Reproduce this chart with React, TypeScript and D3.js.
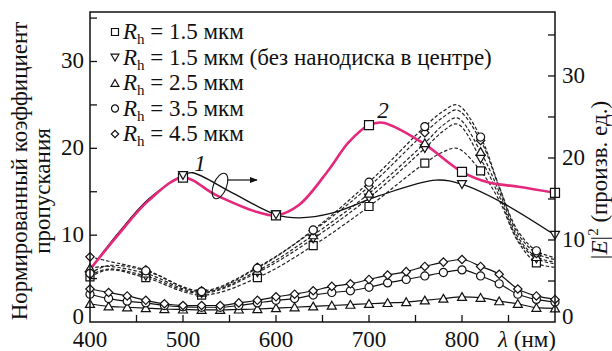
import React from 'react';
import * as d3 from 'd3';

const FONT = 'Liberation Serif';
const PINK = '#e4287c';

// dashed curves: normalized transmission (left axis)
const dashLambda = [400, 420, 460, 520, 580, 640, 700, 760, 780, 795, 820, 840, 860, 880, 900];
const dashMarkLambda = [400, 460, 520, 580, 640, 700, 760, 820, 880];
const dashSq = [5.2, 6.0, 5.1, 3.1, 5.1, 8.8, 13.3, 18.3, 19.6, 20.0, 17.4, 14.0, 9.3, 6.8, 6.3];
const dashInv = [5.4, 6.1, 5.3, 3.3, 5.7, 9.6, 14.3, 20.0, 22.0, 22.8, 18.8, 14.5, 9.5, 7.3, 6.7];
const dashTri = [6.2, 6.4, 5.6, 3.4, 5.9, 10.0, 14.8, 20.6, 22.7, 23.5, 19.6, 15.0, 9.8, 7.5, 6.9];
const dashCirc = [5.6, 6.5, 5.9, 3.5, 6.2, 10.6, 16.1, 22.5, 24.3, 25.0, 21.3, 15.6, 10.5, 8.2, 7.4];
const dashDia = [7.5, 7.0, 6.0, 3.6, 6.3, 10.5, 15.6, 21.8, 23.6, 24.4, 20.9, 15.5, 10.2, 7.9, 7.2];

// lower solid curves (left axis)
const lowLambda = [400, 420, 440, 460, 480, 500, 520, 540, 560, 580, 600, 620, 640, 660, 680, 700, 720, 740, 760, 780, 800, 820, 840, 860, 880, 900];
const lowDia = [3.8, 3.4, 3.0, 2.5, 2.1, 1.9, 1.9, 1.9, 2.2, 2.5, 2.9, 3.2, 3.6, 4.1, 4.4, 4.9, 5.4, 5.8, 6.4, 6.9, 7.2, 6.4, 5.5, 3.8, 3.0, 2.6];
const lowCirc = [3.2, 2.7, 2.4, 2.2, 1.9, 1.75, 1.7, 1.7, 1.9, 2.2, 2.5, 2.7, 3.1, 3.4, 3.6, 4.0, 4.5, 4.9, 5.3, 5.7, 6.0, 5.3, 4.4, 3.2, 2.6, 2.3];
const lowTri = [2.1, 1.8, 1.7, 1.6, 1.5, 1.45, 1.4, 1.4, 1.45, 1.5, 1.6, 1.7, 1.8, 1.9, 2.0, 2.1, 2.2, 2.3, 2.5, 2.7, 2.9, 2.8, 2.4, 2.1, 1.65, 1.57];

// curve 1 (black) and curve 2 (pink): |E|^2, right axis
const c1Lambda = [400, 430, 463, 500, 510, 553, 600, 625, 661, 711, 772, 800, 844, 900];
const c1Val = [6.4, 10.8, 15.0, 17.9, 18.2, 15.75, 13.1, 12.7, 13.3, 15.4, 17.3, 16.8, 14.5, 10.6];
const c1Marks = [500, 600, 800, 900];
const c2Lambda = [400, 430, 463, 500, 535, 580, 600, 625, 657, 678, 700, 715, 757, 800, 829, 861, 900];
const c2Val = [6.4, 10.6, 14.8, 17.6, 15.5, 13.4, 13.0, 14.3, 18.6, 21.9, 24.0, 24.3, 21.9, 18.3, 17.0, 16.5, 15.75];
const c2Marks = [500, 600, 700, 800, 900];

const xTickLabels = [400, 500, 600, 700, 800];
const leftTickLabels = [0, 10, 20, 30];
const rightTickLabels = [0, 10, 20, 30];

const legendItems = [
  { sym: 'square', text: '= 1.5 мкм' },
  { sym: 'inv', text: '= 1.5 мкм (без нанодиска в центре)' },
  { sym: 'tri', text: '= 2.5 мкм' },
  { sym: 'circle', text: '= 3.5 мкм' },
  { sym: 'diamond', text: '= 4.5 мкм' },
];

const W = 612, H = 351;
const left = 90, right = 555, top = 12, bottom = 322;
const FS = 23;

function markerPath(kind: string, s: number) {
  if (kind === 'square') return d3.symbol().type(d3.symbolSquare).size(s * s)()!;
  if (kind === 'circle') return d3.symbol().type(d3.symbolCircle).size(s * s * 0.8)()!;
  if (kind === 'diamond') return d3.symbol().type(d3.symbolSquare).size(s * s * 0.55)()!;
  return d3.symbol().type(d3.symbolTriangle).size(s * s * 0.55)()!;
}

function Marker({ kind, x, y, s }: { kind: string; x: number; y: number; s: number }) {
  let rot = 0;
  if (kind === 'inv') rot = 180;
  if (kind === 'diamond') rot = 45;
  const dy = kind === 'tri' ? 1 : kind === 'inv' ? -1 : 0;
  return (
    <path
      d={markerPath(kind, s)}
      transform={`translate(${x},${y + dy}) rotate(${rot})`}
      fill="#fff"
      stroke="#111"
      strokeWidth={1.2}
    />
  );
}

function T(props: any) {
  const { children, style, ...rest } = props;
  return (
    <text fontFamily={FONT} fill="#111" fontSize={FS} style={{ fontFamily: `'${FONT}'`, ...(style || {}) }} {...rest}>
      {children}
    </text>
  );
}

export default function App() {
  const x = d3.scaleLinear().domain([400, 900]).range([left, right]);
  const yL = d3.scaleLinear().domain([0, 35.7]).range([bottom, top]);
  const yR = d3.scaleLinear().domain([0, 37.8]).range([bottom, top]);

  const lineFor = (ys: d3.ScaleLinear<number, number>, curve: d3.CurveFactory) =>
    d3.line<[number, number]>().x((d) => x(d[0])).y((d) => ys(d[1])).curve(curve);

  const smoothL = lineFor(yL, d3.curveCatmullRom.alpha(0.5));
  const monoL = lineFor(yL, d3.curveMonotoneX);
  const smoothR = lineFor(yR, d3.curveCatmullRom.alpha(0.5));

  const zip = (a: number[], b: number[]) => a.map((v, i) => [v, b[i]] as [number, number]);

  const dashed = [
    { kind: 'square', vals: dashSq },
    { kind: 'inv', vals: dashInv },
    { kind: 'tri', vals: dashTri },
    { kind: 'diamond', vals: dashDia },
    { kind: 'circle', vals: dashCirc },
  ];
  const lows = [
    { kind: 'tri', vals: lowTri },
    { kind: 'circle', vals: lowCirc },
    { kind: 'diamond', vals: lowDia },
  ];

  const valAt = (lams: number[], vals: number[], l: number) => vals[lams.indexOf(l)];

  return (
    <svg width={W} height={H} fontFamily={FONT} style={{ position: 'absolute', left: 0, top: 0, background: '#fff' }}>
      <style>{`text, tspan { font-family: 'Liberation Serif', serif; }`}</style>
      <defs>
        <marker id="arr" viewBox="0 0 10 10" refX="9" refY="5" markerWidth="8" markerHeight="8" markerUnits="userSpaceOnUse" orient="auto">
          <path d="M0,1 L10,5 L0,9 Z" fill="#111" />
        </marker>
      </defs>

      {/* dashed transmission curves */}
      {dashed.map((s) => (
        <path key={'d' + s.kind} d={smoothL(zip(dashLambda, s.vals))!} fill="none" stroke="#222" strokeWidth={1.2} strokeDasharray="3.5,2" />
      ))}

      {/* lower solid curves */}
      {lows.map((s) => (
        <path key={'l' + s.kind} d={monoL(zip(lowLambda, s.vals))!} fill="none" stroke="#111" strokeWidth={1.2} />
      ))}

      {/* curve 1 and curve 2 */}
      <path d={smoothR(zip(c1Lambda, c1Val))!} fill="none" stroke="#111" strokeWidth={1.3} />
      <path d={smoothR(zip(c2Lambda, c2Val))!} fill="none" stroke={PINK} strokeWidth={2.6} />

      {/* markers */}
      {lows.map((s) =>
        lowLambda.map((l, i) => <Marker key={'lm' + s.kind + l} kind={s.kind} x={x(l)} y={yL(s.vals[i])} s={8} />)
      )}
      {dashed.map((s) =>
        dashMarkLambda.map((l) => (
          <Marker key={'dm' + s.kind + l} kind={s.kind} x={x(l)} y={yL(valAt(dashLambda, s.vals, l))} s={8} />
        ))
      )}
      {c2Marks.map((l) => (
        <Marker key={'c2' + l} kind="square" x={x(l)} y={yR(valAt(c2Lambda, c2Val, l))} s={9} />
      ))}
      {c1Marks.map((l) => (
        <Marker key={'c1' + l} kind="inv" x={x(l)} y={yR(valAt(c1Lambda, c1Val, l))} s={8} />
      ))}

      {/* annotations */}
      <ellipse cx={220} cy={186} rx={6.5} ry={13.5} transform="rotate(22,220,186)" fill="none" stroke="#111" strokeWidth={1.1} />
      <line x1={227} y1={180} x2={257} y2={180} stroke="#111" strokeWidth={1.2} markerEnd="url(#arr)" />
      <T x={200} y={171} fontStyle="italic" textAnchor="middle">1</T>
      <T x={383} y={118} fontStyle="italic" textAnchor="middle">2</T>

      {/* frame */}
      <rect x={left} y={top} width={right - left} height={bottom - top} fill="none" stroke="#111" strokeWidth={1.5} />

      {/* ticks */}
      {d3.range(450, 900, 50).map((t) => (
        <line key={'xt' + t} x1={x(t)} x2={x(t)} y1={bottom} y2={bottom - 7} stroke="#111" strokeWidth={1.3} />
      ))}
      {d3.range(5, 36, 5).map((t) => (
        <line key={'yl' + t} x1={left} x2={left + 7} y1={yL(t)} y2={yL(t)} stroke="#111" strokeWidth={1.3} />
      ))}
      {d3.range(5, 38, 5).map((t) => (
        <line key={'yr' + t} x1={right} x2={right - 7} y1={yR(t)} y2={yR(t)} stroke="#111" strokeWidth={1.3} />
      ))}

      {/* tick labels */}
      {xTickLabels.map((t) => (
        <T key={'xl' + t} x={x(t)} y={347} textAnchor="middle">{String(t)}</T>
      ))}
      <T x={556} y={347} textAnchor="end">
        <tspan fontStyle="italic">λ</tspan> (нм)
      </T>
      {leftTickLabels.map((t) => (
        <T key={'ll' + t} x={84} y={yL(t) + 7 - (t === 0 ? 5 : 0)} textAnchor="end">{String(t)}</T>
      ))}
      {rightTickLabels.map((t) => (
        <T key={'rl' + t} x={562} y={yR(t) + 7 - (t === 0 ? 5 : 0)} textAnchor="start">{String(t)}</T>
      ))}

      {/* axis titles */}
      <T transform="translate(27,171) rotate(-90)" textAnchor="middle">Нормированный коэффициент</T>
      <T transform="translate(50,191) rotate(-90)" textAnchor="middle">пропускания</T>
      <T transform="translate(607,180) rotate(-90)" textAnchor="middle">
        |<tspan fontStyle="italic">E</tspan>|<tspan fontSize={15} dy={-9}>2</tspan>
        <tspan dy={9}> (произв. ед.)</tspan>
      </T>

      {/* legend */}
      {legendItems.map((it, i) => {
        const cy = 32 + i * 25.5;
        return (
          <g key={'lg' + i}>
            <Marker kind={it.sym} x={115} y={cy} s={7} />
            <T x={123} y={cy + 7}>
              <tspan fontStyle="italic">R</tspan>
              <tspan fontSize={15} dy={5}>h</tspan>
              <tspan dy={-5}> {it.text}</tspan>
            </T>
          </g>
        );
      })}
    </svg>
  );
}
